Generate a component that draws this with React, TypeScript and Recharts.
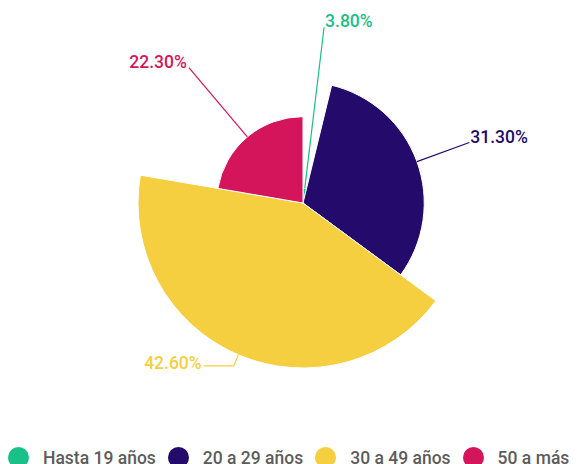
import React from 'react';
import { PieChart, Pie, Cell, Legend } from 'recharts';

const categories = ['Hasta 19 años', '20 a 29 años', '30 a 49 años', '50 a más'];
const shares = [3.8, 31.3, 42.6, 22.3];
const colors = ['#19c088', '#240b6b', '#f5cf3f', '#d5155b'];

const data = categories.map((name, i) => ({ name, value: shares[i] }));

const MAX_R = 165;
const maxShare = Math.max(...shares);
const rOf = (v: number) => (MAX_R * v) / maxShare;
const RAD = Math.PI / 180;
const LABEL_R = 177;
const FONT = 'Roboto, "Noto Sans", sans-serif';

const makeLabel = (own: number) => (props: any) => {
  const { cx, cy, midAngle, outerRadius, index } = props;
  if (index !== own) return null;
  const dx = Math.cos(-midAngle * RAD);
  const dy = Math.sin(-midAngle * RAD);
  const sx = cx + outerRadius * dx;
  const sy = cy + outerRadius * dy;
  const ex = cx + LABEL_R * dx;
  const ey = cy + LABEL_R * dy;
  const lower = dy > 0.5;
  const hx = lower ? ex + (dx < 0 ? -30 : 30) : ex;
  const anchor = dx < 0 ? 'end' : 'start';
  const tx = hx + (dx < 0 ? -2 : 1);
  const ty = lower ? ey + 3 : ey;
  return (
    <g>
      <polyline
        points={`${sx},${sy} ${ex},${ey} ${hx},${ey}`}
        fill="none"
        stroke={colors[own]}
        strokeWidth={1.2}
      />
      <text
        x={tx}
        y={ty}
        textAnchor={anchor}
        fill={colors[own]}
        fontSize={17.5}
        fontWeight={500}
        fontFamily={FONT}
      >
        {shares[own].toFixed(2) + '%'}
      </text>
    </g>
  );
};

const renderLegend = () => (
  <div
    style={{
      display: 'flex',
      alignItems: 'center',
      paddingLeft: 8,
      fontFamily: FONT,
      fontSize: 17.5,
      fontWeight: 500,
      color: '#5c5c5c',
      whiteSpace: 'nowrap',
      height: 21,
    }}
  >
    {categories.map((c, i) => (
      <div key={c} style={{ display: 'flex', alignItems: 'center', marginRight: 12 }}>
        <span
          style={{
            width: 21,
            height: 21,
            borderRadius: '50%',
            background: colors[i],
            marginRight: 14,
            display: 'inline-block',
          }}
        />
        <span>{c}</span>
      </div>
    ))}
  </div>
);

export default function App() {
  return (
    <div style={{ position: 'absolute', left: 0, top: 0, width: 585, height: 464, overflow: 'hidden', background: '#fff' }}>
      <PieChart width={585} height={464} margin={{ top: 0, right: 0, bottom: 0, left: 0 }}>
        {shares.map((s, own) => (
          <Pie
            key={own}
            data={data}
            dataKey="value"
            nameKey="name"
            cx={303}
            cy={203}
            innerRadius={0}
            outerRadius={rOf(s)}
            startAngle={90}
            endAngle={-270}
            isAnimationActive={false}
            labelLine={false}
            label={makeLabel(own)}
            legendType="none"
          >
            {data.map((d, j) => (
              <Cell
                key={d.name}
                fill={j === own ? colors[j] : 'transparent'}
                stroke={j === own ? '#ffffff' : 'none'}
                strokeWidth={j === own ? 1 : 0}
              />
            ))}
          </Pie>
        ))}
        <Legend
          content={renderLegend}
          wrapperStyle={{ position: 'absolute', left: 0, top: 447, width: 585, height: 21 }}
        />
      </PieChart>
    </div>
  );
}
